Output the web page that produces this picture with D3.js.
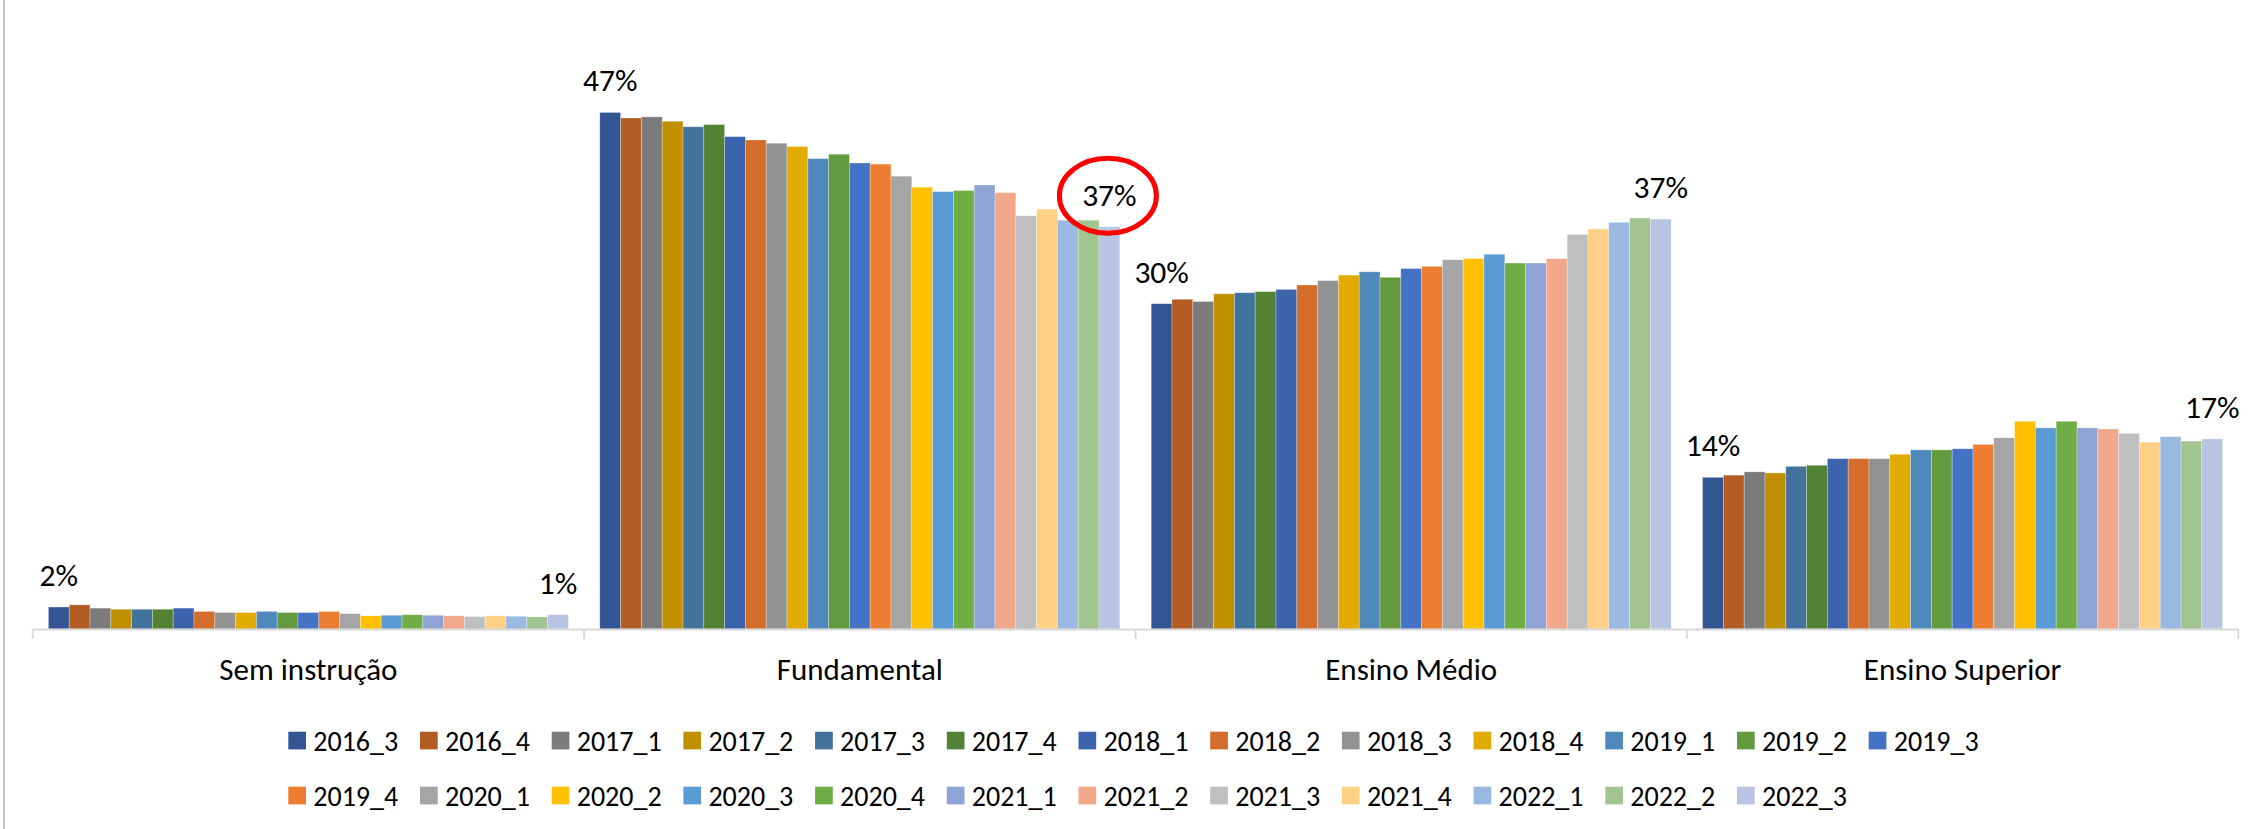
<!DOCTYPE html>
<html lang="pt">
<head>
<meta charset="utf-8">
<title>Escolaridade</title>
<script src="https://d3js.org/d3.v7.min.js"></script>
<style>
body { margin: 0; background: #fff; }
svg text { font-family: Carlito, Calibri, Lato, sans-serif; fill: #000; }
</style>
</head>
<body>
<div id="chart"></div>
<script>
// categories and series (quarters)
var categories = ["Sem instrução", "Fundamental", "Ensino Médio", "Ensino Superior"];
var quarters = ["2016_3","2016_4","2017_1","2017_2","2017_3","2017_4","2018_1","2018_2","2018_3","2018_4",
  "2019_1","2019_2","2019_3","2019_4","2020_1","2020_2","2020_3","2020_4","2021_1","2021_2",
  "2021_3","2021_4","2022_1","2022_2","2022_3"];

// values in % for each category, one per quarter
var semInstrucao = [2.0,2.2,1.9,1.8,1.8,1.8,1.9,1.6,1.5,1.5,1.6,1.5,1.5,1.6,1.4,1.2,1.25,1.3,1.25,1.2,1.13,1.2,1.16,1.1,1.3];
var fundamental = [47.0,46.5,46.6,46.2,45.7,45.9,44.8,44.5,44.2,43.9,42.8,43.2,42.4,42.3,41.2,40.2,39.8,39.9,40.4,39.7,37.6,38.2,37.2,37.2,36.6];
var ensinoMedio = [29.6,30.0,29.8,30.5,30.6,30.7,30.9,31.3,31.7,32.2,32.5,32.0,32.8,33.0,33.6,33.7,34.1,33.3,33.3,33.7,35.9,36.4,37.0,37.4,37.3];
var ensinoSuperior = [13.8,14.0,14.3,14.2,14.8,14.9,15.5,15.5,15.5,15.9,16.3,16.3,16.4,16.8,17.4,18.9,18.3,18.9,18.3,18.2,17.8,17.0,17.5,17.1,17.3];

var colors = ["#335593","#b35c23","#7b7b7b","#bf9000","#43729d","#548235","#3c64ad","#d46d2b","#929292","#e2ab00",
  "#4f88bb","#649a3f","#4472c4","#ed7d31","#a5a5a5","#ffc000","#5b9bd5","#70ad47","#8fa3d4","#f0a78a",
  "#bfbfbf","#fdd085","#9ab9e0","#a2c490","#b8c4e2"];

var values = [semInstrucao, fundamental, ensinoMedio, ensinoSuperior];

var W = 2253, H = 829;
var plot = {left: 32.7, right: 2238.3, base: 629};

var svg = d3.select("#chart").append("svg")
  .attr("width", W).attr("height", H);

svg.append("rect").attr("width", W).attr("height", H).attr("fill", "#fff");

// left chart border
svg.append("line")
  .attr("x1", 4).attr("x2", 4).attr("y1", 0).attr("y2", H)
  .attr("stroke", "#c3c3c3").attr("stroke-width", 2);

var x0 = d3.scaleBand()
  .domain(categories)
  .range([plot.left, plot.right])
  .paddingInner(0.057)
  .paddingOuter(0.0285);

var x1 = d3.scaleBand()
  .domain(quarters)
  .range([0, x0.bandwidth()])
  .padding(0);

var y = d3.scaleLinear()
  .domain([0, 50])
  .range([plot.base, plot.base - 50 * 10.99]);

// bars
var groups = svg.selectAll(".cat")
  .data(categories)
  .enter().append("g")
    .attr("class", "cat")
    .attr("transform", function(d) { return "translate(" + x0(d) + ",0)"; });

groups.selectAll("rect")
  .data(function(d, i) { return values[i].map(function(v, j) { return {q: quarters[j], v: v, c: colors[j]}; }); })
  .enter().append("rect")
    .attr("x", function(d) { return x1(d.q); })
    .attr("y", function(d) { return y(d.v); })
    .attr("width", x1.bandwidth())
    .attr("height", function(d) { return y(0) - y(d.v); })
    .attr("fill", function(d) { return d.c; })
    .attr("stroke", "#ffffff").attr("stroke-opacity", 0.35).attr("stroke-width", 0.8);

// data labels on first and last quarter of each category
var fmt = d3.format(".0f");
var labels = [];
categories.forEach(function(c, i) {
  [0, quarters.length - 1].forEach(function(j) {
    labels.push({x: x0(c) + x1(quarters[j]) + x1.bandwidth() / 2, y: y(values[i][j]), t: fmt(values[i][j]) + "%", cat: c, j: j});
  });
});

svg.selectAll(".lbl")
  .data(labels)
  .enter().append("text")
    .attr("class", "lbl")
    .attr("x", function(d) { return d.x; })
    .attr("y", function(d) { return d.y - 21; })
    .attr("text-anchor", "middle")
    .style("font-size", "31.5px")
    .text(function(d) { return d.t; });

// red highlight around the last Fundamental label
var hl = labels.filter(function(d) { return d.cat == "Fundamental" && d.j == quarters.length - 1; })[0];
svg.append("ellipse")
  .attr("cx", hl.x - 1.5)
  .attr("cy", hl.y - 31)
  .attr("rx", 48.5)
  .attr("ry", 37.5)
  .attr("fill", "none")
  .attr("stroke", "#ff0000")
  .attr("stroke-width", 5);

// category axis
var xAxis = svg.append("g");
xAxis.append("line")
  .attr("x1", plot.left).attr("x2", plot.right)
  .attr("y1", plot.base + 0.5).attr("y2", plot.base + 0.5)
  .attr("stroke", "#d9d9d9").attr("stroke-width", 2);

var tickPos = categories.map(function(c) { return x0(c) - x0.step() * 0.0285; });
tickPos.push(plot.right);
xAxis.selectAll(".tick")
  .data(tickPos)
  .enter().append("line")
    .attr("x1", function(d) { return d; }).attr("x2", function(d) { return d; })
    .attr("y1", plot.base).attr("y2", plot.base + 10)
    .attr("stroke", "#d9d9d9").attr("stroke-width", 2);

xAxis.selectAll(".catlbl")
  .data(categories)
  .enter().append("text")
    .attr("x", function(d) { return x0(d) + x0.bandwidth() / 2; })
    .attr("y", 680)
    .attr("text-anchor", "middle")
    .style("font-size", "31px")
    .text(function(d) { return d; });

// legend, 13 per row
var perRow = 13, colW = 131.7, legX = 288.3, rowY = [740.5, 795.5];
var leg = svg.selectAll(".leg")
  .data(quarters)
  .enter().append("g")
    .attr("class", "leg")
    .attr("transform", function(d, i) {
      return "translate(" + (legX + (i % perRow) * colW) + "," + rowY[Math.floor(i / perRow)] + ")";
    });

leg.append("rect")
  .attr("x", 0).attr("y", -8.8)
  .attr("width", 17.7).attr("height", 17.7)
  .attr("fill", function(d, i) { return colors[i]; });

leg.append("text")
  .attr("x", 25)
  .attr("y", 10)
  .style("font-size", "28px")
  .text(function(d) { return d; });
</script>
</body>
</html>
